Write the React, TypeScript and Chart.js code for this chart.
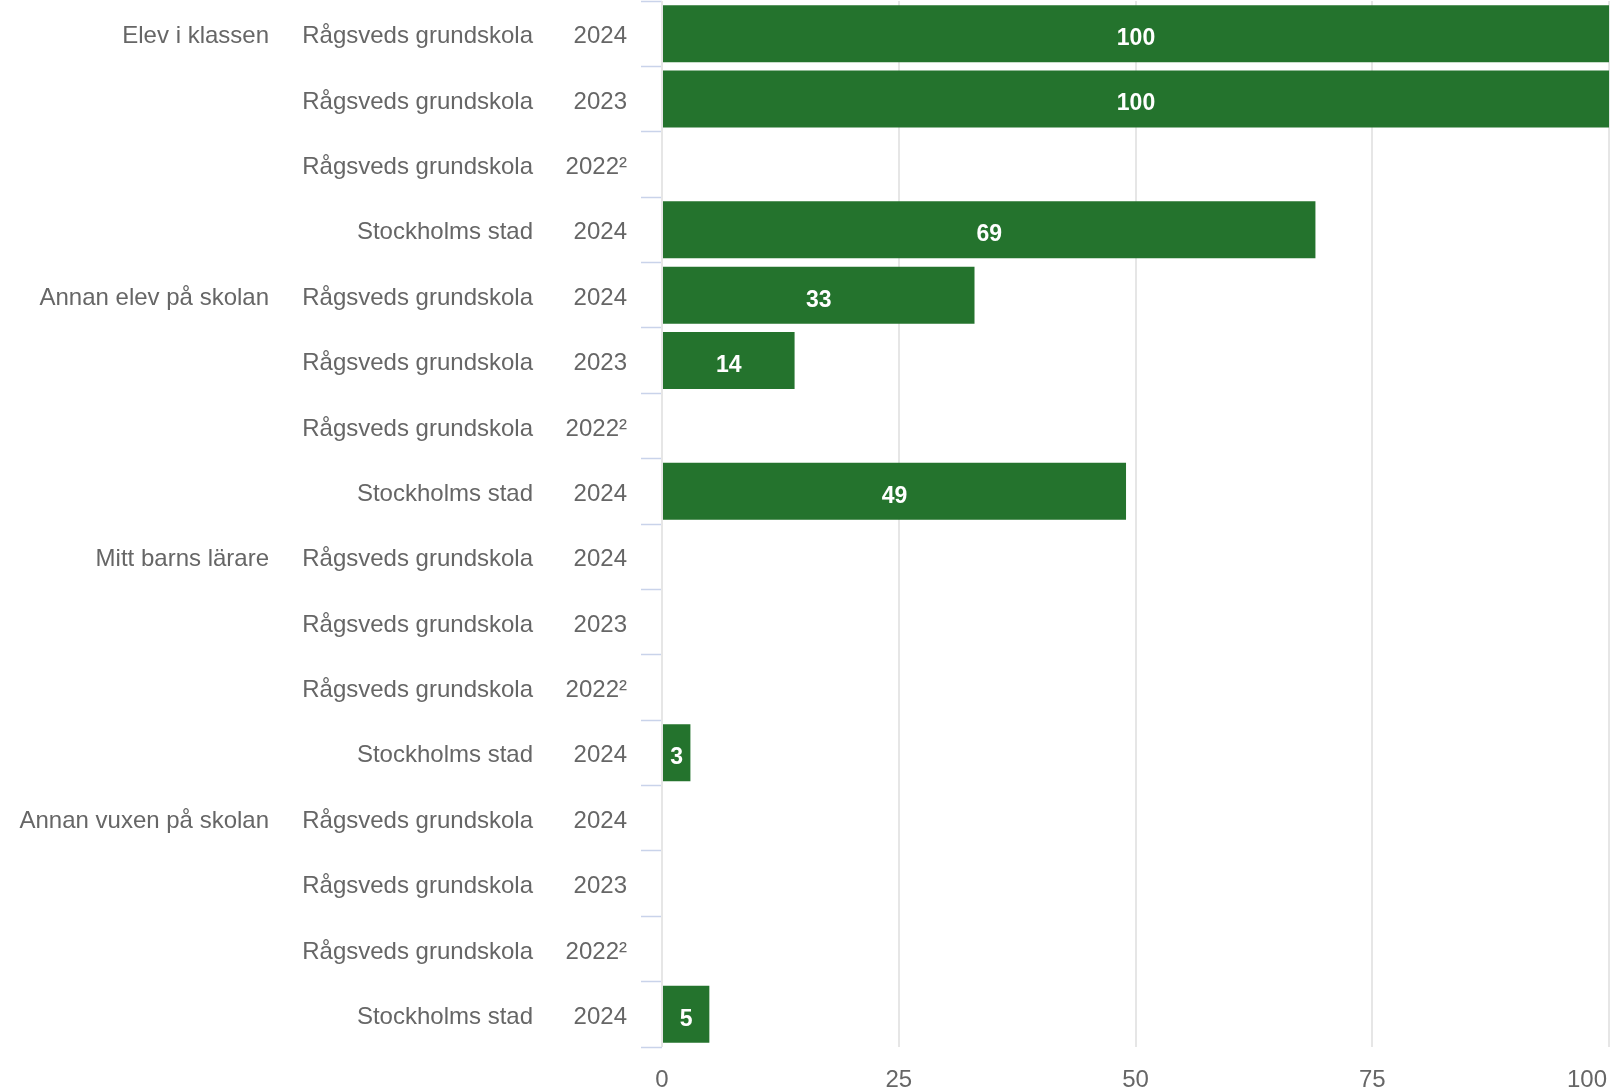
import React, { useEffect, useRef } from 'react';
import { Chart, registerables } from 'chart.js';

Chart.register(...registerables);

const groupLabels = [
  'Elev i klassen', '', '', '',
  'Annan elev på skolan', '', '', '',
  'Mitt barns lärare', '', '', '',
  'Annan vuxen på skolan', '', '', '',
];

const schoolLabels = [
  'Rågsveds grundskola', 'Rågsveds grundskola', 'Rågsveds grundskola', 'Stockholms stad',
  'Rågsveds grundskola', 'Rågsveds grundskola', 'Rågsveds grundskola', 'Stockholms stad',
  'Rågsveds grundskola', 'Rågsveds grundskola', 'Rågsveds grundskola', 'Stockholms stad',
  'Rågsveds grundskola', 'Rågsveds grundskola', 'Rågsveds grundskola', 'Stockholms stad',
];

const yearLabels = [
  '2024', '2023', '2022²', '2024',
  '2024', '2023', '2022²', '2024',
  '2024', '2023', '2022²', '2024',
  '2024', '2023', '2022²', '2024',
];

const values: (number | null)[] = [
  100, 100, null, 69,
  33, 14, null, 49,
  null, null, null, 3,
  null, null, null, 5,
];

const xMin = 0;
const xMax = 100;
const xStep = 25;

const FONT = "'Liberation Sans', Arial, Helvetica, sans-serif";
const LABEL_COLOR = '#666666';
const BAR_COLOR = '#24732d';

const valueLabels = {
  id: 'valueLabels',
  afterDatasetsDraw(chart: any) {
    const ctx = chart.ctx;
    const meta = chart.getDatasetMeta(0);
    const data = chart.data.datasets[0].data;
    ctx.save();
    ctx.font = `bold 23px ${FONT}`;
    ctx.fillStyle = '#ffffff';
    ctx.textAlign = 'center';
    ctx.textBaseline = 'middle';
    meta.data.forEach((bar: any, i: number) => {
      const v = data[i];
      if (v === null || v === undefined) return;
      const p = bar.getProps(['x', 'y', 'base'], true);
      ctx.fillText(String(v), (p.x + p.base) / 2, p.y + 5);
    });
    ctx.restore();
  },
};

const lastTickLabel = {
  id: 'lastTickLabel',
  afterDraw(chart: any) {
    const xs = chart.scales.x;
    const ctx = chart.ctx;
    ctx.save();
    ctx.font = `24px ${FONT}`;
    ctx.fillStyle = LABEL_COLOR;
    ctx.textAlign = 'right';
    ctx.textBaseline = 'middle';
    ctx.fillText(String(xMax), xs.getPixelForValue(xMax) - 2, xs.top + 19 + 14.4);
    ctx.restore();
  },
};

const noVPad = (w: number) => (s: any) => {
  s.width = w;
  s.paddingTop = 0;
  s.paddingBottom = 0;
};

export default function App() {
  const ref = useRef<HTMLCanvasElement | null>(null);

  useEffect(() => {
    if (!ref.current) return;
    const chart = new Chart(ref.current, {
      type: 'bar',
      data: {
        labels: yearLabels,
        datasets: [
          {
            data: values,
            backgroundColor: BAR_COLOR,
            borderWidth: 0,
            barPercentage: 0.87,
            categoryPercentage: 1,
            yAxisID: 'y',
            xAxisID: 'x',
          },
        ],
      },
      options: {
        indexAxis: 'y',
        animation: false,
        responsive: true,
        maintainAspectRatio: false,
        layout: { padding: { top: 1, right: 8, left: 0, bottom: 0 } },
        plugins: {
          legend: { display: false },
          tooltip: { enabled: false },
          title: { display: false },
        },
        scales: {
          y: {
            type: 'category',
            axis: 'y',
            position: 'left',
            weight: 0,
            offset: true,
            labels: yearLabels,
            grid: {
              display: true,
              offset: true,
              drawOnChartArea: false,
              drawTicks: true,
              tickLength: 21,
              tickColor: '#c9d3ea',
              tickWidth: 1.5,
            },
            border: { display: false },
            ticks: {
              autoSkip: false,
              padding: 14,
              labelOffset: 3,
              color: LABEL_COLOR,
              font: { size: 24, family: FONT },
            },
            afterFit: noVPad(114),
          },
          ySchool: {
            type: 'category',
            axis: 'y',
            position: 'left',
            weight: 1,
            offset: true,
            labels: schoolLabels,
            grid: { display: false, drawTicks: false, tickLength: 0 },
            border: { display: false },
            ticks: {
              autoSkip: false,
              padding: 15,
              labelOffset: 3,
              color: LABEL_COLOR,
              font: { size: 24, family: FONT },
            },
            afterFit: noVPad(264),
          },
          yGroup: {
            type: 'category',
            axis: 'y',
            position: 'left',
            weight: 2,
            offset: true,
            labels: groupLabels,
            grid: { display: false, drawTicks: false, tickLength: 0 },
            border: { display: false },
            ticks: {
              autoSkip: false,
              padding: 15,
              labelOffset: 3,
              color: LABEL_COLOR,
              font: { size: 24, family: FONT },
            },
            afterFit: noVPad(284),
          },
          x: {
            type: 'linear',
            position: 'bottom',
            min: xMin,
            max: xMax,
            grid: {
              color: '#e6e6e6',
              lineWidth: 2,
              drawTicks: false,
            },
            border: { display: false },
            ticks: {
              stepSize: xStep,
              padding: 19,
              color: LABEL_COLOR,
              font: { size: 24, family: FONT },
              maxRotation: 0,
              callback: (v: any) => (Number(v) === xMax ? '' : String(v)),
            },
            afterFit: (s: any) => { s.height = 45; s.paddingRight = 0; s.paddingLeft = 0; },
          },
        },
      },
      plugins: [valueLabels, lastTickLabel],
    });
    return () => chart.destroy();
  }, []);

  return (
    <div style={{ position: 'absolute', left: 0, top: 0, width: 1617, height: 1092, background: '#ffffff' }}>
      <canvas ref={ref} />
    </div>
  );
}
